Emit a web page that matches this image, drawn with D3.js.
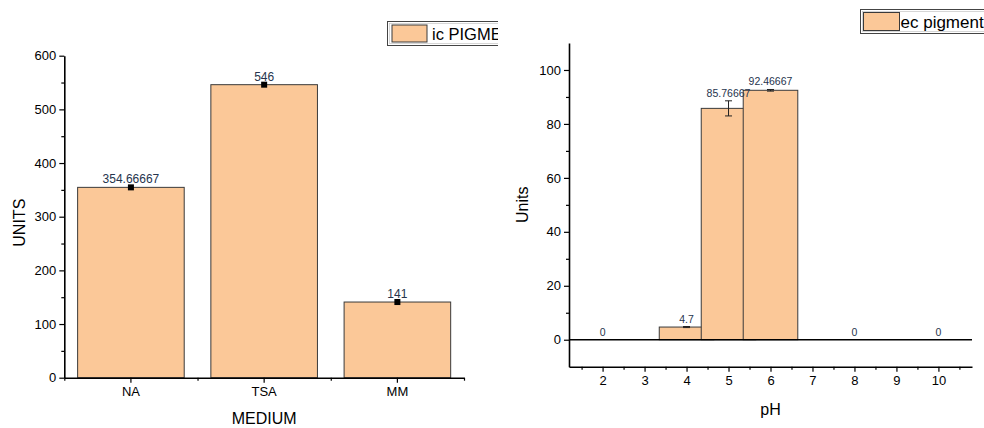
<!DOCTYPE html>
<html><head><meta charset="utf-8">
<script src="https://cdn.jsdelivr.net/npm/d3@7"></script>
<style>
body{margin:0;background:#fff;}
text{font-family:Arial,"Liberation Sans",sans-serif;}
</style></head>
<body><svg id="c" width="984" height="428"></svg>
<script>
// ---- data ----
const mediumCats = ["NA", "TSA", "MM"];
const mediumVals = [354.66667, 546, 141];
const mediumErr = [3, 2, 5];
const mediumLabels = ["354.66667", "546", "141"];
const mediumTicks = [0, 100, 200, 300, 400, 500, 600];

const phVals = [2, 4, 5, 6, 8, 10];
const phUnits = [0, 4.7, 85.76667, 92.46667, 0, 0];
const phErr = [0, 0.2, 2.8, 0.3, 0, 0];
const phLabels = ["0", "4.7", "85.76667", "92.46667", "0", "0"];
const phTicks = [2, 3, 4, 5, 6, 7, 8, 9, 10];
const phYTicks = [0, 20, 40, 60, 80, 100];

const legendLeft = "ic PIGMENT";
const legendRight = "ec pigment";

// ---- styles ----
const FILL = "#FBC898", EDGE = "#3a3a3a", LBL = "#26344d";
const svg = d3.select("#c");

// ===== Left chart =====
const L = {x0: 64.3, x1: 464, y0: 377.7, y1: 55.7};
svg.append("clipPath").attr("id", "lc").append("rect")
  .attr("x", 0).attr("y", 0).attr("width", 498).attr("height", 428);
const gl = svg.append("g").attr("clip-path", "url(#lc)");
const xL = d3.scaleBand().domain(mediumCats).range([L.x0, L.x1]).paddingInner(0.2).paddingOuter(0.1);
const yL = d3.scaleLinear().domain([0, 600]).range([L.y0, L.y1]);

gl.selectAll("rect.bar").data(mediumCats).join("rect").attr("class", "bar")
  .attr("x", d => xL(d)).attr("width", xL.bandwidth())
  .attr("y", (d, i) => yL(mediumVals[i])).attr("height", (d, i) => L.y0 - yL(mediumVals[i]))
  .attr("fill", FILL).attr("stroke", EDGE).attr("stroke-width", 1);

mediumCats.forEach((c, i) => {
  const cx = xL(c) + xL.bandwidth() / 2;
  gl.append("line").attr("x1", cx).attr("x2", cx)
    .attr("y1", yL(mediumVals[i] + mediumErr[i])).attr("y2", yL(mediumVals[i] - mediumErr[i]))
    .attr("stroke", "#000").attr("stroke-width", 1);
  gl.append("rect").attr("x", cx - 3).attr("y", yL(mediumVals[i]) - 3).attr("width", 6).attr("height", 6).attr("fill", "#000");
  gl.append("text").attr("x", cx).attr("y", yL(mediumVals[i]) - 4).attr("text-anchor", "middle")
    .attr("font-size", 12).attr("fill", LBL).text(mediumLabels[i]);
});

gl.append("g").attr("transform", `translate(${L.x0},0)`)
  .call(d3.axisLeft(yL).tickValues(mediumTicks).tickSize(5).tickPadding(3).tickSizeOuter(0));
gl.append("g").attr("transform", `translate(${L.x0},0)`)
  .call(d3.axisLeft(yL).tickValues(d3.range(50, 600, 100)).tickSize(3).tickFormat("").tickSizeOuter(0))
  .select(".domain").remove();
gl.append("g").attr("transform", `translate(0,${L.y0})`)
  .call(d3.axisBottom(xL).tickSize(5).tickPadding(4).tickSizeOuter(0));
gl.append("g").attr("transform", `translate(0,${L.y0})`)
  .call(d3.axisBottom(d3.scaleLinear().domain([0, 3]).range([L.x0, L.x1])).tickValues([0, 1, 2, 3]).tickSize(3).tickFormat("").tickSizeOuter(0))
  .select(".domain").remove();

gl.append("text").attr("transform", `translate(25,${(L.y0 + L.y1) / 2 + 6}) rotate(-90)`)
  .attr("text-anchor", "middle").attr("font-size", 16).text("UNITS");
gl.append("text").attr("x", (L.x0 + L.x1) / 2).attr("y", 424).attr("text-anchor", "middle")
  .attr("font-size", 16).text("MEDIUM");

// legend left
gl.append("rect").attr("x", 387.5).attr("y", 21.5).attr("width", 140).attr("height", 24)
  .attr("fill", "#fff").attr("stroke", "#444").attr("stroke-width", 1);
gl.append("rect").attr("x", 389.5).attr("y", 23.5).attr("width", 140).attr("height", 20)
  .attr("fill", "none").attr("stroke", "#bbb").attr("stroke-width", 0.6);
gl.append("rect").attr("x", 392).attr("y", 25).attr("width", 35).attr("height", 17)
  .attr("fill", FILL).attr("stroke", EDGE).attr("stroke-width", 1);
gl.append("text").attr("x", 432).attr("y", 39.5).attr("font-size", 16.5).text(legendLeft);

// ===== Right chart =====
const R = {x0: 569, x1: 972, yb: 366.7, yt: 43};
const xR = d3.scaleLinear().domain([1.2, 10.8]).range([R.x0, R.x1]);
const yR = d3.scaleLinear().domain([-10, 110]).range([R.yb, R.yt]);
const gr = svg.append("g");
const barW = 1.3;

gr.selectAll("rect.bar").data(phVals).join("rect").attr("class", "bar")
  .attr("x", d => xR(d - barW / 2)).attr("width", d => xR(d + barW / 2) - xR(d - barW / 2))
  .attr("y", (d, i) => yR(phUnits[i])).attr("height", (d, i) => yR(0) - yR(phUnits[i]))
  .attr("fill", FILL).attr("stroke", EDGE).attr("stroke-width", 1)
  .attr("display", (d, i) => phUnits[i] > 0 ? null : "none");

gr.append("line").attr("x1", R.x0).attr("x2", R.x1).attr("y1", yR(0)).attr("y2", yR(0))
  .attr("stroke", "#000").attr("stroke-width", 1.3);

phVals.forEach((v, i) => {
  const cx = xR(v);
  if (phErr[i] > 0) {
    const ya = yR(phUnits[i] + phErr[i]), yb = yR(phUnits[i] - phErr[i]);
    gr.append("line").attr("x1", cx).attr("x2", cx).attr("y1", ya).attr("y2", yb).attr("stroke", "#222").attr("stroke-width", 1);
    [ya, yb].forEach(yy => gr.append("line").attr("x1", cx - 3.5).attr("x2", cx + 3.5).attr("y1", yy).attr("y2", yy)
      .attr("stroke", "#222").attr("stroke-width", 1));
  }
  gr.append("text").attr("x", cx).attr("y", yR(phUnits[i] + phErr[i]) - 4).attr("text-anchor", "middle")
    .attr("font-size", 10.5).attr("fill", LBL).text(phLabels[i]);
});

gr.append("g").attr("transform", `translate(${R.x0},0)`)
  .call(d3.axisLeft(yR).tickValues(phYTicks).tickSize(5).tickPadding(3).tickSizeOuter(0));
gr.append("g").attr("transform", `translate(${R.x0},0)`)
  .call(d3.axisLeft(yR).tickValues(d3.range(-10, 110, 20).filter(v => v > -10)).tickSize(3).tickFormat("").tickSizeOuter(0))
  .select(".domain").remove();
gr.append("g").attr("transform", `translate(0,${R.yb})`)
  .call(d3.axisBottom(xR).tickValues(phTicks).tickSize(5).tickPadding(4).tickFormat(d3.format("d")).tickSizeOuter(0));
gr.append("g").attr("transform", `translate(0,${R.yb})`)
  .call(d3.axisBottom(xR).tickValues(d3.range(1.5, 10.8, 1)).tickSize(3).tickFormat("").tickSizeOuter(0))
  .select(".domain").remove();

gr.append("text").attr("transform", `translate(528,${(yR(-10) + yR(110)) / 2}) rotate(-90)`)
  .attr("text-anchor", "middle").attr("font-size", 16).text("Units");
gr.append("text").attr("x", xR(6)).attr("y", 415).attr("text-anchor", "middle").attr("font-size", 16).text("pH");

// legend right
gr.append("rect").attr("x", 860.5).attr("y", 9.5).attr("width", 140).attr("height", 24)
  .attr("fill", "#fff").attr("stroke", "#444").attr("stroke-width", 1);
gr.append("rect").attr("x", 862.5).attr("y", 11.5).attr("width", 140).attr("height", 20)
  .attr("fill", "none").attr("stroke", "#bbb").attr("stroke-width", 0.6);
gr.append("rect").attr("x", 863.5).attr("y", 12.5).attr("width", 36).attr("height", 18)
  .attr("fill", FILL).attr("stroke", EDGE).attr("stroke-width", 1);
gr.append("text").attr("x", 900.5).attr("y", 27.5).attr("font-size", 17).text(legendRight);

svg.selectAll(".domain").attr("stroke", "#000").attr("stroke-width", 1.6);
svg.selectAll(".tick line").attr("stroke", "#000").attr("stroke-width", 1.2);
svg.selectAll(".tick text").attr("font-size", 13).attr("fill", "#000").attr("font-family", "Arial, 'Liberation Sans', sans-serif");
</script></body></html>
